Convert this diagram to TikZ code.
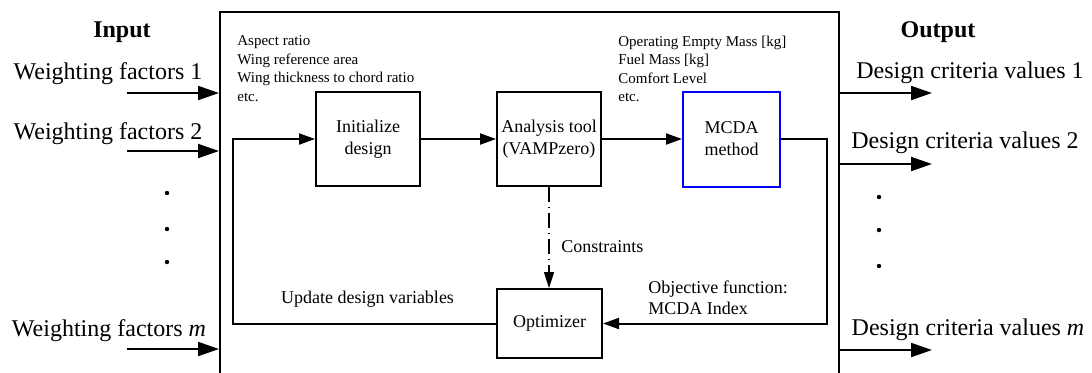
\documentclass[tikz,border=0pt]{standalone}
\usepackage{fontspec}
\setmainfont{Liberation Serif}
\usetikzlibrary{arrows.meta, positioning, calc}

\tikzset{
  block/.style={draw, line width=1pt, align=center, inner sep=0pt,
    font=\fontsize{9}{11}\selectfont},
  note/.style={align=left, inner sep=0pt, font=\fontsize{7.5}{9.2}\selectfont},
  remark/.style={align=left, inner sep=0pt, font=\fontsize{9}{10.5}\selectfont},
  iolabel/.style={inner sep=0pt, font=\fontsize{12}{14}\selectfont},
  flow/.style={line width=1pt, -{Triangle[length=8pt,width=5.5pt]}},
  io/.style={line width=1pt, -{Triangle[length=10.5pt,width=7pt]}},
}

\begin{document}
\begin{tikzpicture}[x=0.5pt, y=-0.5pt]
    \useasboundingbox (0,0) rectangle (1092,372);

    % Rahmen (unten abgeschnitten)
    \node[draw, line width=1pt, inner sep=0pt, minimum width=309.5pt,
          minimum height=190pt] (frame) at (529.5,202) {};

    % Bloecke
    \node[block, minimum width=52pt, minimum height=47pt] (init) at (368,139) {Initialize\\design};
    \node[block, minimum width=52pt, minimum height=47pt] (tool) at (549,139) {Analysis tool\\(VAMPzero)};
    \node[block, draw=blue, minimum width=48.5pt, minimum height=47.5pt] (mcda) at (731.5,139) {MCDA\\method};
    \node[block, minimum width=52.5pt, minimum height=34.5pt] (opt) at (549.5,323.5) {Optimizer};

    % Verbindungen
    \coordinate (turn) at (827,0);
    \coordinate (loop) at (233,0);
    \draw[flow] (init) -- (tool);
    \draw[flow] (tool) -- (mcda);
    \draw[flow] (mcda.east) -- (mcda.east -| turn) |- (opt.east);
    \draw[flow] (opt.west) -| (loop |- init.west) -- (init.west);
    \draw[line width=0.8pt, dash pattern=on 7.5pt off 2.5pt on 0.5pt off 2.5pt,
          -{Triangle[length=8pt,width=5pt]}] (tool.south) -- (tool.south |- opt.north);

    % Beschriftungen innen
    \node[note, anchor=north west] (vars) at (237,35.5)
        {Aspect ratio\\Wing reference area\\Wing thickness to chord ratio\\etc.};
    \node[note, anchor=north west] (crit) at (618,35.5)
        {Operating Empty Mass [kg]\\Fuel Mass [kg]\\Comfort Level\\etc.};
    \node[remark, anchor=base west] (cons) at (561,252) {Constraints};
    \node[remark, anchor=base] (upd) at (367.5,303) {Update design variables};
    \node[remark, anchor=north west] (obj) at (648,280.5) {Objective function:\\MCDA Index};

    % Eingaenge
    \node[iolabel, anchor=base, font=\fontsize{12}{14}\selectfont\bfseries] (inp) at (122,37.7) {Input};
    \node[iolabel, anchor=base] (w1) at (108,79.5) {Weighting factors 1};
    \node[iolabel, anchor=base] (w2) at (108,139.5) {Weighting factors 2};
    \node[iolabel, anchor=base] (wm) at (109,336.5) {Weighting factors \textit{m}};
    \coordinate (in1) at (127,93);
    \coordinate (in2) at (127,151);
    \coordinate (inm) at (127,349);
    \foreach \p in {in1,in2,inm} {
        \draw[io] (\p) -- (\p -| frame.west);
    }
    \foreach \y in {193,229,262} {
        \fill (167,\y) circle (2.2);
    }

    % Ausgaenge
    \node[iolabel, anchor=base, font=\fontsize{12}{14}\selectfont\bfseries] (outp) at (938,37.7) {Output};
    \node[iolabel, anchor=base] (d1) at (970,78.5) {Design criteria values 1};
    \node[iolabel, anchor=base] (d2) at (965,148.5) {Design criteria values 2};
    \node[iolabel, anchor=base] (dm) at (968,335.5) {Design criteria values \textit{m}};
    \coordinate (out1) at (932,93);
    \coordinate (out2) at (932,164);
    \coordinate (outm) at (932,350);
    \foreach \p in {out1,out2,outm} {
        \draw[io] (\p -| frame.east) -- (\p);
    }
    \foreach \y in {197,230,266} {
        \fill (879,\y) circle (2.2);
    }

\end{tikzpicture}
\end{document}
